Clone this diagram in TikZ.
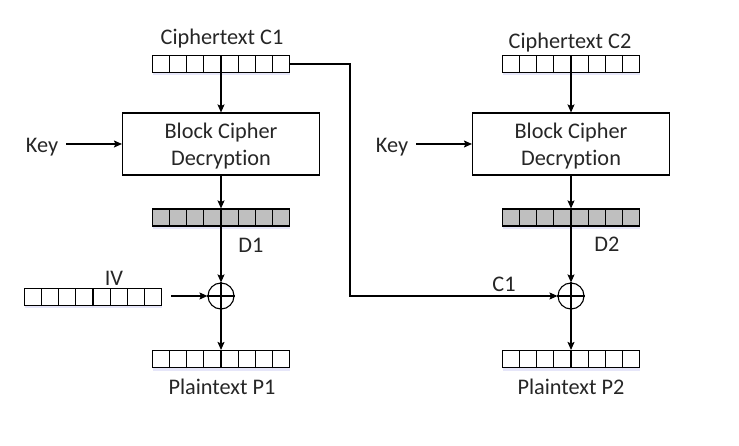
\documentclass[tikz,border=0pt]{standalone}
\usepackage{fontspec}
\setmainfont[Ligatures=NoCommon]{Carlito}
\usetikzlibrary{calc,arrows.meta,shadows}
\definecolor{txt}{HTML}{262626}
\definecolor{regfill}{HTML}{BFBFBF}
\tikzset{
  lbl/.style={text=txt, font=\fontsize{22.3}{27}\selectfont, inner sep=0pt},
  reg/.style={draw, line width=1.1pt, minimum width=137pt, minimum height=17pt, inner sep=0pt, fill=white,
    drop shadow={shadow xshift=0pt, shadow yshift=-3pt, opacity=0.12, fill=blue!60!gray}},
  greg/.style={reg, fill=regfill},
  blockbox/.style={draw, line width=1.1pt, minimum width=197pt, minimum height=62pt},
  blocktext/.style={lbl, align=center},
  arr/.style={line width=1.1pt, -{Stealth[length=8pt,width=7pt,inset=1.5pt]}},
  xorc/.style={circle, draw, line width=1.1pt, minimum size=26pt, inner sep=0pt}
}
\newcommand{\regcells}[1]{%
  \foreach \i in {1,...,7}{\draw[line width=1.1pt] ($(#1.south west)!\i/8!(#1.south east)$) -- ($(#1.north west)!\i/8!(#1.north east)$);}}
\newcommand{\xorcross}[1]{%
  \draw[line width=1.1pt] (#1.north) -- (#1.south) (#1.west) -- (#1.east);}
\begin{document}
\begin{tikzpicture}[x=1pt,y=-1pt]
\useasboundingbox (0,0) rectangle (739,446);
% left column
\node[reg] (c1) at (221,64) {};
\node[blockbox] (blk1) at (221,144) {};
\node[blocktext] (bt1) at (221,146) {Block Cipher\\Decryption};
\node[greg] (d1) at (221,217.5) {};
\node[xorc] (x1) at (221,296) {};
\node[reg] (p1) at (221,359) {};
\node[reg] (iv) at (93,297) {};
% right column
\node[reg] (c2) at (571,64) {};
\node[blockbox] (blk2) at (571,144) {};
\node[blocktext] (bt2) at (571,146) {Block Cipher\\Decryption};
\node[greg] (d2) at (571,217.5) {};
\node[xorc] (x2) at (571,296) {};
\node[reg] (p2) at (571,359) {};
\regcells{c1}\regcells{d1}\regcells{p1}\regcells{iv}
\regcells{c2}\regcells{d2}\regcells{p2}
\xorcross{x1}\xorcross{x2}
% labels
\node[lbl] (lc1) at (222,39) {Ciphertext C1};
\node[lbl] (lc2) at (570,43) {Ciphertext C2};
\node[lbl] (k1) at (42,147) {Key};
\node[lbl] (k2) at (392,147) {Key};
\node[lbl] (ld1) at (251,245) {D1};
\node[lbl] (ld2) at (607,244) {D2};
\node[lbl] (liv) at (114,278) {IV};
\node[lbl] (lcc) at (504,284) {C1};
\node[lbl] (lp1) at (222,387) {Plaintext P1};
\node[lbl] (lp2) at (571,387) {Plaintext P2};
\coordinate (bend) at (350,0);
% connectors
\draw[arr] (c1.south) -- (blk1.north);
\draw[arr] (blk1.south) -- (d1.north);
\draw[arr] (d1.north) -- (x1.north);
\draw[arr] (x1.south) -- (p1.north);
\draw[arr] ([xshift=8pt]k1.east |- blk1.west) -- (blk1.west);
\draw[arr] ([xshift=9pt]x1.west -| iv.east) -- (x1.west);
\draw[arr] (c2.south) -- (blk2.north);
\draw[arr] (blk2.south) -- (d2.north);
\draw[arr] (d2.north) -- (x2.north);
\draw[arr] (x2.south) -- (p2.north);
\draw[arr] ([xshift=8pt]k2.east |- blk2.west) -- (blk2.west);
\draw[arr] (c1.east) -- (bend |- c1.east) -- (bend |- x2.west) -- (x2.west);
\end{tikzpicture}
\end{document}
